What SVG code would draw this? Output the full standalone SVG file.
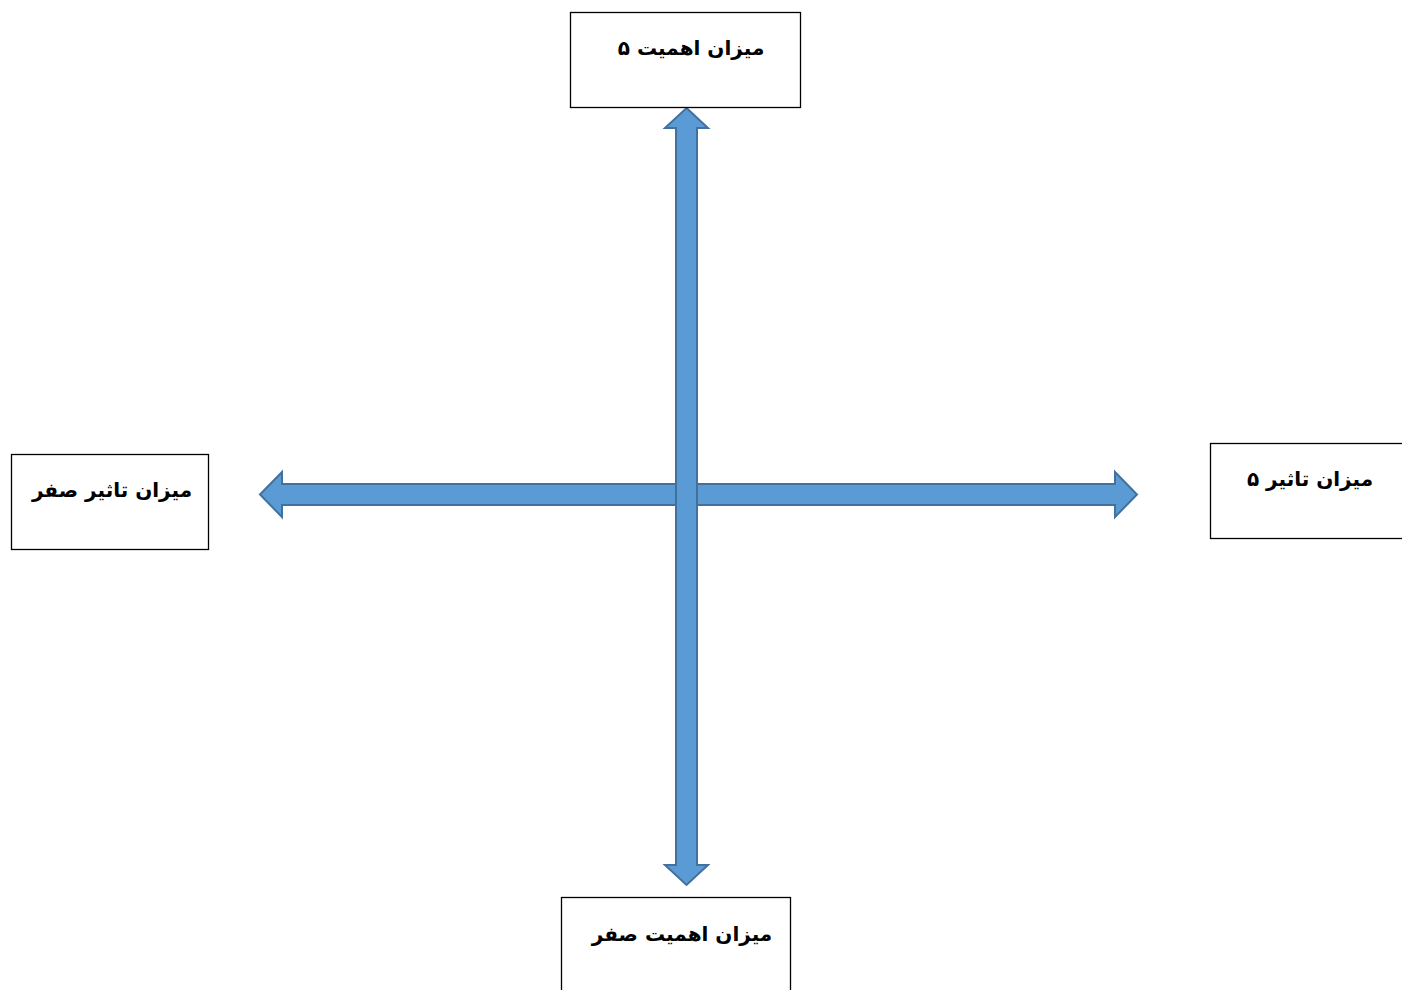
<svg xmlns="http://www.w3.org/2000/svg" width="1402" height="990" viewBox="0 0 1402 990">
<style>
.box{fill:#fff;stroke:#000;stroke-width:1.3}
.lbl{font-family:"DejaVu Sans",sans-serif;font-weight:bold;font-size:20px;fill:#000;text-anchor:middle}
.arr{fill:#5B9BD5;stroke:#41719C;stroke-width:2;stroke-linejoin:miter}
</style>
<rect width="1402" height="990" fill="#fff"/>
<g id="connectors">
<path class="arr" d="M260,494.5 L282,472 L282,484 L1115,484 L1115,472 L1137,494.5 L1115,517 L1115,505 L282,505 L282,517 Z"/>
<path class="arr" d="M686.5,108 L708,128 L697,128 L697,865 L708,865 L686.5,885 L665,865 L676,865 L676,128 L665,128 Z"/>
</g>
<g id="node-top">
<rect class="box" x="570.5" y="12.5" width="230" height="95"/>
<text class="lbl" x="691" y="55" direction="rtl">میزان اهمیت ۵</text>
</g>
<g id="node-right">
<rect class="box" x="1210.5" y="443.5" width="200" height="95"/>
<text class="lbl" x="1310" y="486" direction="rtl">میزان تاثیر ۵</text>
</g>
<g id="node-left">
<rect class="box" x="11.5" y="454.5" width="197" height="95"/>
<text class="lbl" x="112" y="497" direction="rtl">میزان تاثیر صفر</text>
</g>
<g id="node-bottom">
<rect class="box" x="561.5" y="897.5" width="229" height="100"/>
<text class="lbl" x="682" y="941" direction="rtl">میزان اهمیت صفر</text>
</g>
</svg>
